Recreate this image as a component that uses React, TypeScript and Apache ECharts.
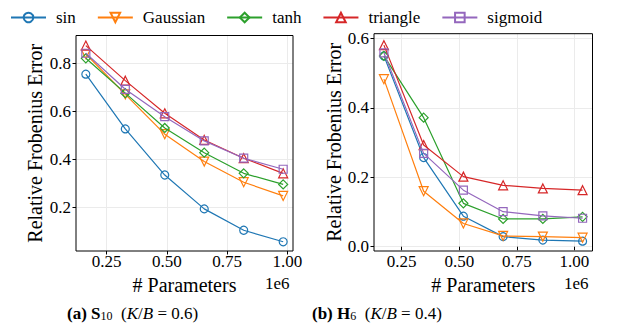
import React, { useEffect, useRef } from "react";
import * as echarts from "echarts";

const seriesNames = ["sin", "Gaussian", "tanh", "triangle", "sigmoid"];
const seriesColors = ["#1f77b4", "#ff7f0e", "#2ca02c", "#d62728", "#9467bd"];
const seriesSymbols = ["circle", "triangle", "diamond", "triangle", "rect"];
const seriesRotate = [0, 180, 0, 0, 0];
const seriesSymbolSize = [8, 9, 9, 9, 8];

// Panel (a): S10, K/B = 0.6
const paramsA = [163800, 327600, 491400, 655200, 819000, 982800];
const errA_sin = [0.756, 0.528, 0.336, 0.195, 0.106, 0.058];
const errA_gauss = [0.84, 0.672, 0.506, 0.392, 0.306, 0.249];
const errA_tanh = [0.822, 0.677, 0.532, 0.429, 0.343, 0.297];
const errA_triangle = [0.875, 0.729, 0.593, 0.482, 0.406, 0.343];
const errA_sigmoid = [0.843, 0.693, 0.579, 0.478, 0.406, 0.36];

// Panel (b): H6, K/B = 0.4
const paramsB = [172600, 345200, 517800, 690400, 863000, 1035600];
const errB_sin = [0.55, 0.257, 0.088, 0.029, 0.019, 0.016];
const errB_gauss = [0.483, 0.16, 0.067, 0.031, 0.029, 0.026];
const errB_tanh = [0.55, 0.372, 0.125, 0.08, 0.08, 0.086];
const errB_triangle = [0.581, 0.293, 0.202, 0.177, 0.168, 0.163];
const errB_sigmoid = [0.559, 0.269, 0.163, 0.101, 0.089, 0.082];

const xTicks = [250000, 500000, 750000, 1000000];
const yTicksA = [0.2, 0.4, 0.6, 0.8];
const yTicksB = [0.0, 0.2, 0.4, 0.6];

const FONT = "Liberation Serif, Times New Roman, serif";

export default function App() {
  const ref = useRef<HTMLDivElement>(null);

  useEffect(() => {
    if (!ref.current) return;
    const chart = echarts.init(ref.current, undefined, { renderer: "svg" });

    const dataA = [errA_sin, errA_gauss, errA_tanh, errA_triangle, errA_sigmoid];
    const dataB = [errB_sin, errB_gauss, errB_tanh, errB_triangle, errB_sigmoid];

    const mkSeries = (vals: number[][], xs: number[], idx: number) =>
      vals.map((v, i) => ({
        name: seriesNames[i],
        type: "line",
        xAxisIndex: idx,
        yAxisIndex: idx,
        data: xs.map((x, j) => [x, v[j]]),
        symbol: seriesSymbols[i],
        symbolRotate: seriesRotate[i],
        symbolSize: seriesSymbolSize[i],
        showAllSymbol: true,
        lineStyle: { color: seriesColors[i], width: 1.2 },
        itemStyle: {
          color: "rgba(255,255,255,0)",
          borderColor: seriesColors[i],
          borderWidth: 1.2,
        },
        emphasis: { disabled: true },
        z: 2 + i,
      }));

    const xAxisBase = (gridIndex: number, min: number, max: number) => ({
      type: "value",
      gridIndex,
      min,
      max,
      axisLine: { show: false },
      axisTick: {
        show: true,
        inside: false,
        length: 3.5,
        customValues: xTicks,
        lineStyle: { color: "#000", width: 1 },
      },
      axisLabel: {
        customValues: xTicks,
        formatter: (v: number) => (v / 1e6).toFixed(2),
        fontFamily: FONT,
        fontSize: 17,
        color: "#000",
        margin: 2,
      },
      splitLine: { show: true, lineStyle: { color: "#ebebeb", width: 1 } },
      name: "# Parameters",
      nameLocation: "middle",
      nameGap: 21,
      nameTextStyle: { fontFamily: FONT, fontSize: 20, color: "#000" },
    });

    const yAxisBase = (gridIndex: number, min: number, max: number, ticks: number[], gap: number) => ({
      type: "value",
      gridIndex,
      min,
      max,
      axisLine: { show: false },
      axisTick: {
        show: true,
        inside: false,
        length: 3.5,
        customValues: ticks,
        lineStyle: { color: "#000", width: 1 },
      },
      axisLabel: {
        customValues: ticks,
        formatter: (v: number) => v.toFixed(1),
        fontFamily: FONT,
        fontSize: 17,
        color: "#000",
        margin: 5,
      },
      splitLine: { show: true, lineStyle: { color: "#ebebeb", width: 1 } },
      name: "Relative Frobenius Error",
      nameLocation: "middle",
      nameGap: gap,
      nameTextStyle: { fontFamily: FONT, fontSize: 20, color: "#000" },
    });

    const richStyles = {
      b: { fontFamily: FONT, fontSize: 17, fontWeight: "bold", color: "#000", lineHeight: 20, verticalAlign: "bottom" },
      sub: { fontFamily: FONT, fontSize: 12, color: "#000", lineHeight: 20, verticalAlign: "bottom", padding: [8, 0, 0, 0] },
      n: { fontFamily: FONT, fontSize: 17, color: "#000", lineHeight: 20, verticalAlign: "bottom" },
      i: { fontFamily: FONT, fontSize: 17, fontStyle: "italic", color: "#000", lineHeight: 20, verticalAlign: "bottom" },
    };

    const option = {
      animation: false,
      backgroundColor: "#fff",
      textStyle: { fontFamily: FONT },
      legend: {
        left: 5,
        top: 4,
        itemWidth: 35,
        itemHeight: 12,
        itemGap: 21,
        selectedMode: false,
        data: seriesNames,
        textStyle: {
          fontFamily: FONT,
          fontSize: 17,
          color: "#000",
          padding: [0, 0, 0, 5],
        },
      },
      grid: [
        {
          left: 76,
          top: 35.5,
          width: 217,
          height: 215.5,
          show: true,
          borderColor: "#000",
          borderWidth: 1,
          backgroundColor: "rgba(0,0,0,0)",
          z: 10,
        },
        {
          left: 374,
          top: 33.7,
          width: 218.5,
          height: 217.3,
          show: true,
          borderColor: "#000",
          borderWidth: 1,
          backgroundColor: "rgba(0,0,0,0)",
          z: 10,
        },
      ],
      xAxis: [xAxisBase(0, 123000, 1023600), xAxisBase(1, 129500, 1078700)],
      yAxis: [
        yAxisBase(0, 0.0196, 0.917, yTicksA, 31),
        yAxisBase(1, -0.0124, 0.614, yTicksB, 26),
      ],
      series: [...mkSeries(dataA, paramsA, 0), ...mkSeries(dataB, paramsB, 1)],
      graphic: [
        {
          type: "text",
          x: 265,
          y: 283,
          style: { text: "1e6", fontFamily: FONT, fontSize: 17, fill: "#000", verticalAlign: "middle" },
        },
        {
          type: "text",
          x: 564,
          y: 283,
          style: { text: "1e6", fontFamily: FONT, fontSize: 17, fill: "#000", verticalAlign: "middle" },
        },
        {
          type: "text",
          x: 67,
          y: 312,
          style: {
            text: "{b|(a) S}{sub|10}{n|  (}{i|K}{n|/}{i|B}{n| = 0.6)}",
            verticalAlign: "middle",
            fontFamily: FONT,
            rich: richStyles,
          },
        },
        {
          type: "text",
          x: 312,
          y: 312,
          style: {
            text: "{b|(b) H}{sub|6}{n|  (}{i|K}{n|/}{i|B}{n| = 0.4)}",
            verticalAlign: "middle",
            fontFamily: FONT,
            rich: richStyles,
          },
        },
      ],
    };

    chart.setOption(option as any);
    return () => chart.dispose();
  }, []);

  return (
    <div
      ref={ref}
      style={{ position: "fixed", left: 0, top: 0, width: 629, height: 335 }}
    />
  );
}
